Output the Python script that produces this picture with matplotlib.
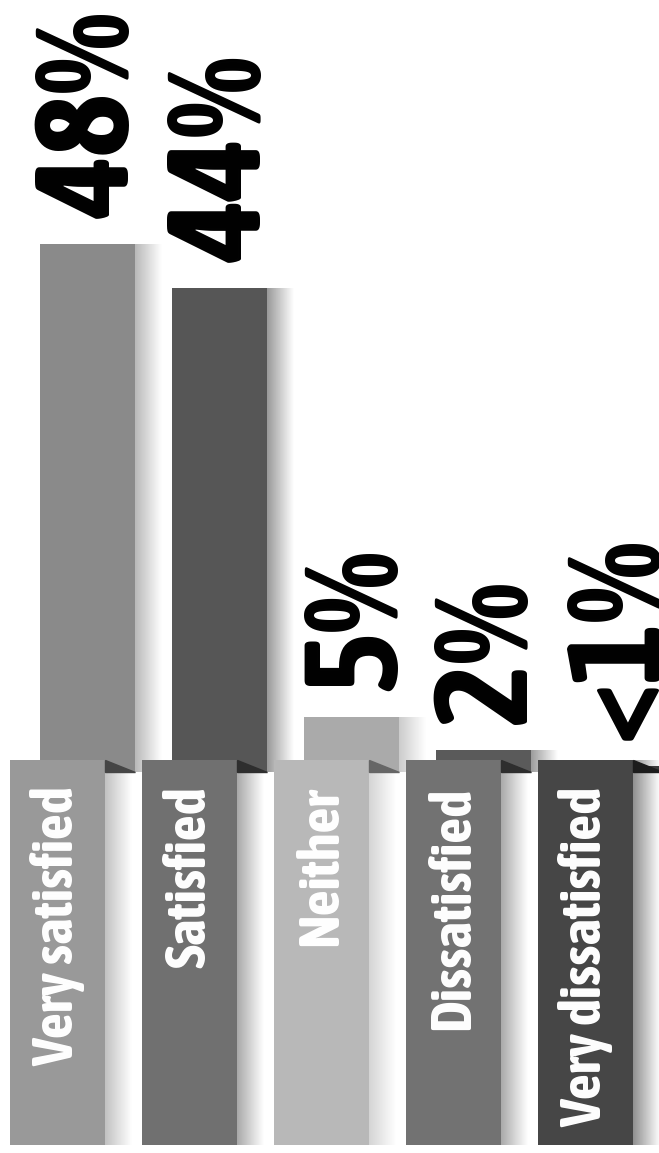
import matplotlib.pyplot as plt
import numpy as np
from matplotlib.colors import LinearSegmentedColormap
from matplotlib.patches import Polygon

# satisfaction survey, shares in percent
categories = ["Very satisfied", "Satisfied", "Neither", "Dissatisfied", "Very dissatisfied"]
values = [48, 44, 5, 2, 0.5]
value_labels = ["48%", "44%", "5%", "2%", "<1%"]

bar_colors = ["#8a8a8a", "#565656", "#aaaaaa", "#5a5a5a", "#3a3a3a"]
tab_colors = ["#999999", "#707070", "#b8b8b8", "#727272", "#464646"]
fold_colors = ["#454545", "#2e2e2e", "#666666", "#2e2e2e", "#1c1c1c"]

label_font = ["Asap Condensed", "Liberation Sans Narrow", "DejaVu Sans"]
number_font = ["Asap SemiCondensed", "Asap Condensed", "Liberation Sans Narrow", "DejaVu Sans"]

fig = plt.figure(figsize=(6.59, 11.53), dpi=100)
ax = fig.add_axes([0, 0, 1, 1])

x = np.arange(len(categories))
width = 0.72
tab_shift = -0.227      # tabs sit a little left of the bars
tab_top = 1.1
tab_bottom = -33.9
shade_w = 0.2


def shade(x0, bottom, top, color, z):
    # soft fade to the right of a block
    cmap = LinearSegmentedColormap.from_list("fade", [color, "white"])
    grad = np.linspace(0, 1, 64).reshape(1, -1)
    ax.imshow(grad, extent=[x0, x0 + shade_w, bottom, top], cmap=cmap,
              aspect="auto", alpha=0.6, zorder=z, interpolation="bilinear")


# bars
ax.bar(x, values, width=width, color=bar_colors, zorder=2)
for xi, v, c in zip(x, values, bar_colors):
    shade(xi + width / 2, 0, v, c, 1)

# label tabs in front of the bar bases
tab_x = x + tab_shift
ax.bar(tab_x, tab_top - tab_bottom, bottom=tab_bottom, width=width,
       color=tab_colors, zorder=3)
for i, xi in enumerate(tab_x):
    shade(xi + width / 2, tab_bottom, tab_top, tab_colors[i], 1)
    # folded corner between tab and bar
    r_tab = xi + width / 2
    r_bar = x[i] + width / 2
    ax.add_patch(Polygon([(r_tab, tab_top), (r_tab, 0), (r_bar, 0)],
                         closed=True, color=fold_colors[i], zorder=4))
    ax.text(xi, -1.3, categories[i], rotation=90, ha="center", va="top",
            color="white", fontsize=41, fontweight="bold", family=label_font,
            zorder=5)

# value labels above the bars
for xi, v, lab in zip(x, values, value_labels):
    ax.text(xi + 0.05, v + 2.4, lab, rotation=90, ha="center", va="bottom",
            color="black", fontsize=95, fontweight="bold", family=number_font,
            zorder=5)

ax.set_xlim(-0.663, 4.33)
ax.set_ylim(-34.64, 70.18)
ax.axis("off")

fig.savefig("out.png", dpi=100, facecolor="white")
